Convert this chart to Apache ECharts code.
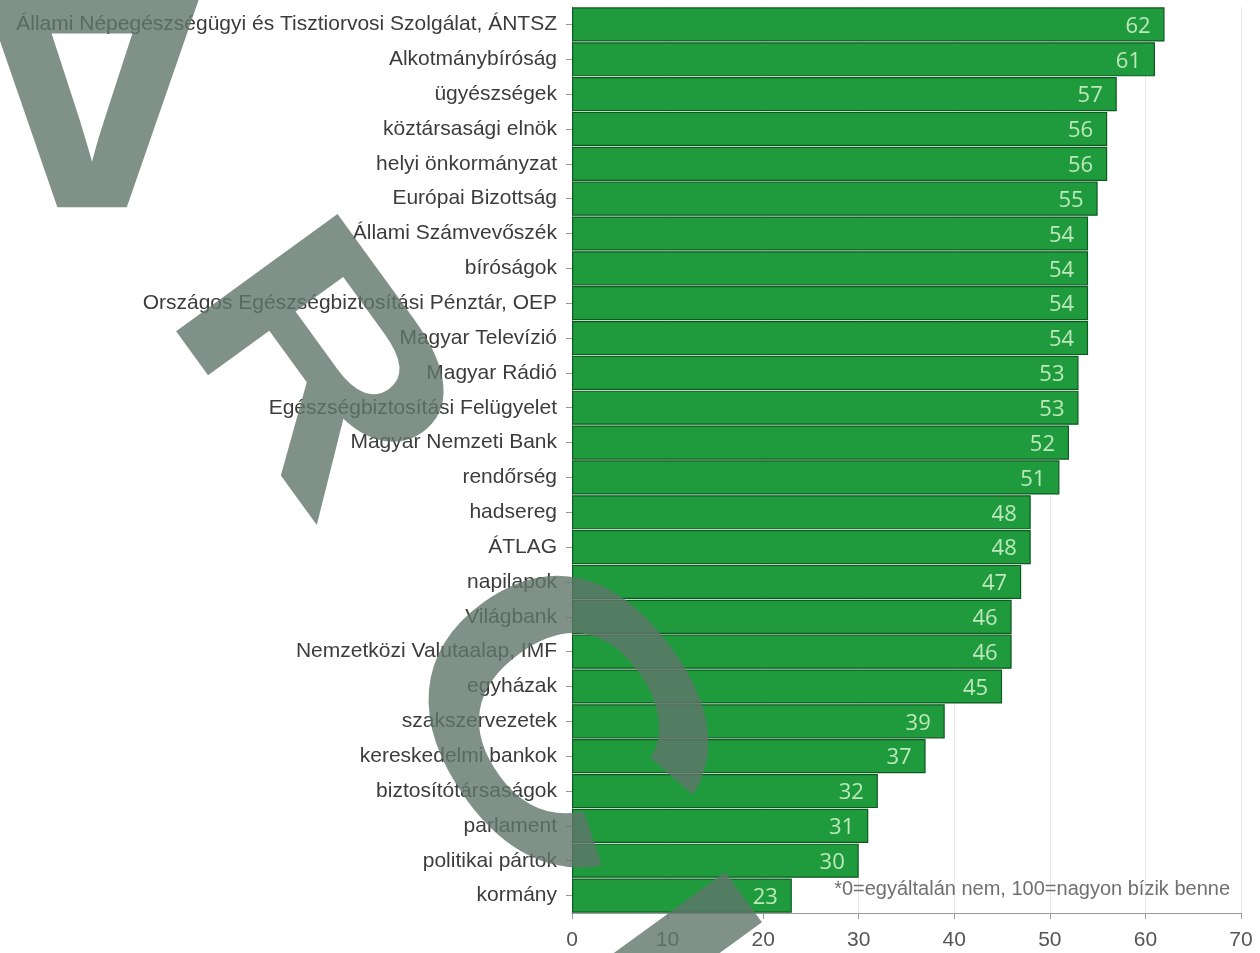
<!DOCTYPE html>
<html>
<head>
<meta charset="utf-8">
<script src="https://cdn.jsdelivr.net/npm/echarts@6/dist/echarts.min.js"></script>
<style>
html,body{margin:0;padding:0;background:#fff;}
#chart{width:1260px;height:953px;}
</style>
</head>
<body>
<div id="chart"></div>
<script>
const categories = [
  "Állami Népegészségügyi és Tisztiorvosi Szolgálat, ÁNTSZ",
  "Alkotmánybíróság",
  "ügyészségek",
  "köztársasági elnök",
  "helyi önkormányzat",
  "Európai Bizottság",
  "Állami Számvevőszék",
  "bíróságok",
  "Országos Egészségbiztosítási Pénztár, OEP",
  "Magyar Televízió",
  "Magyar Rádió",
  "Egészségbiztosítási Felügyelet",
  "Magyar Nemzeti Bank",
  "rendőrség",
  "hadsereg",
  "ÁTLAG",
  "napilapok",
  "Világbank",
  "Nemzetközi Valutaalap, IMF",
  "egyházak",
  "szakszervezetek",
  "kereskedelmi bankok",
  "biztosítótársaságok",
  "parlament",
  "politikai pártok",
  "kormány"
];
const values = [62, 61, 57, 56, 56, 55, 54, 54, 54, 54, 53, 53, 52, 51, 48, 48, 47, 46, 46, 45, 39, 37, 32, 31, 30, 23];
const xTicks = [0, 10, 20, 30, 40, 50, 60, 70];
const footnote = "*0=egyáltalán nem, 100=nagyon bízik benne";
const watermarkLetters = ["A", "R", "C", "H"];

const chart = echarts.init(document.getElementById('chart'), null, {renderer: 'canvas'});

// watermark letter placement (decoration only)
const deg = Math.PI / 180;
const wmSpec = [
  {x: 92, y: 30, rot: 180 * deg, size: 430, sx: 0.95},
  {x: 306, y: 374, rot: -54 * deg, size: 290, sx: 1.3},
  {x: 543, y: 730, rot: -54 * deg, size: 360, sx: 1.2},
  {x: 680, y: 1062, rot: -54 * deg, size: 360, sx: 1.2}
];
const watermark = watermarkLetters.map((ch, i) => ({
  type: 'text',
  x: wmSpec[i].x,
  y: wmSpec[i].y,
  rotation: wmSpec[i].rot,
  scaleX: wmSpec[i].sx,
  silent: true,
  z: 100,
  style: {
    text: ch,
    x: 0, y: 0,
    align: 'center',
    verticalAlign: 'middle',
    font: 'bold ' + wmSpec[i].size + 'px "Liberation Sans", Arial, sans-serif',
    fill: 'rgba(96,118,107,0.8)'
  }
}));

const option = {
  backgroundColor: '#ffffff',
  animation: false,
  grid: {left: 572, right: 19, top: 7, bottom: 40, containLabel: false},
  xAxis: {
    type: 'value',
    min: xTicks[0],
    max: xTicks[xTicks.length - 1],
    interval: 10,
    axisLine: {show: true, lineStyle: {color: '#9a9a9a', width: 1}},
    axisTick: {show: true, length: 6, lineStyle: {color: '#9a9a9a'}},
    axisLabel: {color: '#555', fontSize: 21, fontFamily: '"Liberation Sans", Arial, sans-serif', margin: 17},
    splitLine: {show: true, lineStyle: {color: '#e8e8e8', width: 1}}
  },
  yAxis: {
    type: 'category',
    inverse: true,
    data: categories,
    axisLine: {show: true, lineStyle: {color: '#9a9a9a'}},
    axisTick: {show: true, alignWithLabel: true, length: 6, lineStyle: {color: '#9a9a9a'}},
    axisLabel: {color: '#3c3c3c', fontSize: 21, fontFamily: '"Liberation Sans", Arial, sans-serif', margin: 15}
  },
  series: [{
    type: 'bar',
    data: values,
    barCategoryGap: '2%',
    itemStyle: {color: '#1f9b3e', borderColor: '#0c5a1f', borderWidth: 1.2},
    label: {
      show: true,
      position: 'insideRight',
      distance: 14,
      color: '#bce8bc',
      fontSize: 22,
      fontFamily: '"Open Sans", "DejaVu Sans", sans-serif',
      offset: [0, 2]
    }
  }],
  graphic: [
    {
      type: 'text',
      right: 30,
      top: 879,
      z: 50,
      silent: true,
      style: {
        text: footnote,
        font: '20px "Liberation Sans", Arial, sans-serif',
        fill: '#707070'
      }
    }
  ].concat(watermark)
};
chart.setOption(option);
</script>
</body>
</html>
